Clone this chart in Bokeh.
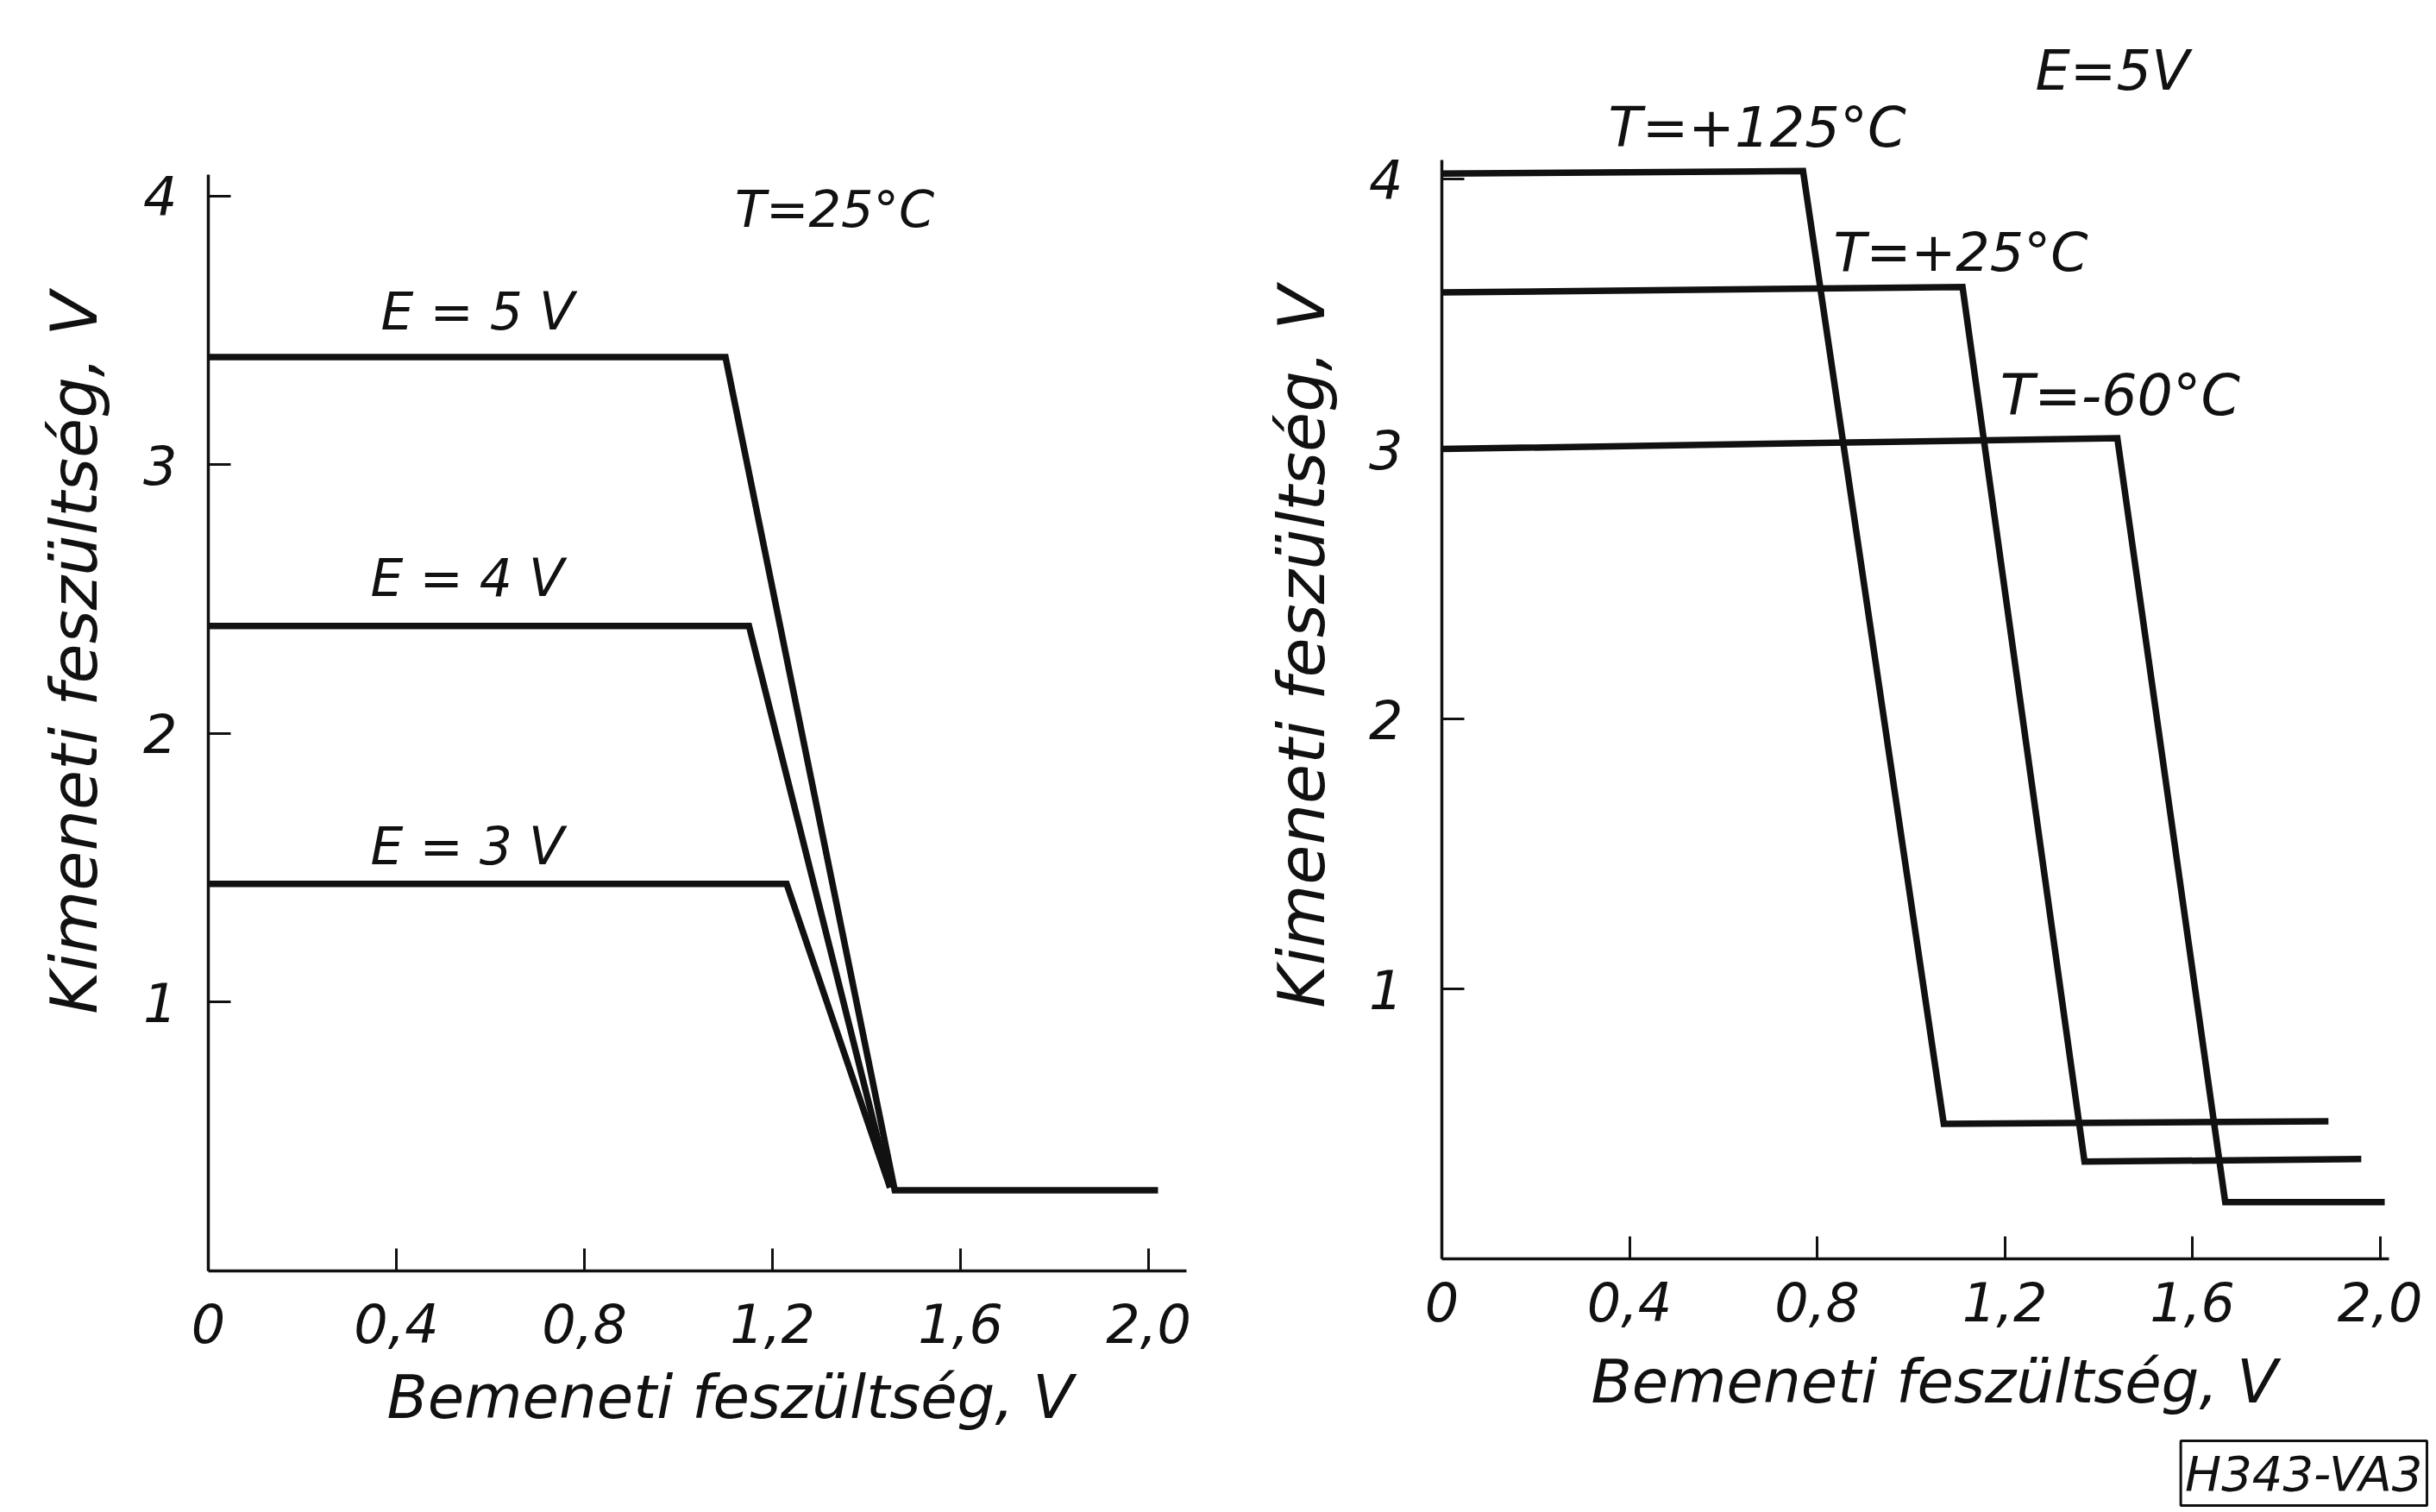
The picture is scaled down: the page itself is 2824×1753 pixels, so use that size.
from bokeh.plotting import figure
from bokeh.models import FixedTicker, Label, Range1d, Title
from bokeh.layouts import row
from bokeh.embed import file_html
from bokeh.resources import INLINE

FONT = "DejaVu Sans"
INK = "#111111"

# ---------------- data ----------------
# Left chart, T = 25 °C: output vs input voltage for three supply voltages
left_labels = ["E = 5 V", "E = 4 V", "E = 3 V"]
left_e5_x = [0.0, 1.10, 1.46, 2.02]
left_e5_y = [3.40, 3.40, 0.30, 0.30]
left_e4_x = [0.0, 1.15, 1.45]
left_e4_y = [2.40, 2.40, 0.31]
left_e3_x = [0.0, 1.23, 1.45]
left_e3_y = [1.44, 1.44, 0.31]
left_note = "T=25°C"

# Right chart, E = 5 V: output vs input voltage for three temperatures
right_labels = ["T=+125°C", "T=+25°C", "T=-60°C"]
right_t125_x = [0.0, 0.77, 1.07, 1.89]
right_t125_y = [4.02, 4.03, 0.50, 0.51]
right_t25_x = [0.0, 1.11, 1.37, 1.96]
right_t25_y = [3.58, 3.60, 0.36, 0.37]
right_tm60_x = [0.0, 1.44, 1.67, 2.01]
right_tm60_y = [3.00, 3.04, 0.21, 0.21]
right_note = "E=5V"
figure_code = "H343-VA3"

x_ticks = [0.0, 0.4, 0.8, 1.2, 1.6, 2.0]
x_tick_labels = ["0", "0,4", "0,8", "1,2", "1,6", "2,0"]
y_ticks = [1, 2, 3, 4]
y_tick_labels = ["1", "2", "3", "4"]
x_title = "Bemeneti feszültség, V"
y_title = "Kimeneti feszültség, V"


def make_fig(x_end, y_end, x_axis_end, y_axis_end, fw, fh, bl, bt, br, bb,
             y_stand, x_stand, y_lab_stand, x_lab_stand):
    p = figure(x_range=Range1d(0, x_end), y_range=Range1d(0, y_end),
               frame_width=fw, frame_height=fh,
               min_border_left=bl, min_border_top=bt,
               min_border_right=br, min_border_bottom=bb,
               output_backend="svg", toolbar_location=None,
               background_fill_color="white", border_fill_color="white")
    p.outline_line_color = None
    p.grid.visible = False
    for ax in (p.xaxis[0], p.yaxis[0]):
        ax.axis_line_width = 3.5
        ax.axis_line_color = INK
        ax.major_tick_line_width = 3
        ax.major_tick_line_color = INK
        ax.major_tick_in = 26
        ax.major_tick_out = 0
        ax.minor_tick_line_color = None
        ax.major_label_text_font = FONT
        ax.major_label_text_font_style = "italic"
        ax.major_label_text_font_size = "62px"
        ax.major_label_text_color = INK
        ax.axis_label_text_font = FONT
        ax.axis_label_text_font_style = "italic"
        ax.axis_label_text_color = INK
    p.xaxis[0].axis_label_text_font_size = "69px"
    p.yaxis[0].axis_label_text_font_size = "75px"
    p.xaxis[0].bounds = (0, x_axis_end)
    p.yaxis[0].bounds = (0, y_axis_end)
    p.xaxis[0].ticker = FixedTicker(ticks=x_ticks)
    p.xaxis[0].major_label_overrides = dict(zip(x_ticks, x_tick_labels))
    p.yaxis[0].ticker = FixedTicker(ticks=y_ticks)
    p.yaxis[0].major_label_overrides = dict(zip(y_ticks, y_tick_labels))
    p.xaxis[0].axis_label = x_title
    p.yaxis[0].axis_label = y_title
    p.yaxis[0].major_label_standoff = y_stand
    p.xaxis[0].major_label_standoff = x_stand
    p.yaxis[0].axis_label_standoff = y_lab_stand
    p.xaxis[0].axis_label_standoff = x_lab_stand
    return p


def note(p, x, y, text, size):
    p.add_layout(Label(x=x, y=y, text=text, text_align="left",
                       text_baseline="middle", text_font=FONT,
                       text_font_style="italic", text_font_size=size,
                       text_color=INK))


# ---------------- left chart ----------------
p1 = make_fig(2.22, 4.599, 2.08, 4.08, 1210, 1433, 241, 40, 9, 279, 36, 37, 33, 20)
for xs, ys in ((left_e5_x, left_e5_y), (left_e4_x, left_e4_y), (left_e3_x, left_e3_y)):
    p1.line(xs, ys, line_color=INK, line_width=7.5, line_join="miter")
note(p1, 1.12, 3.95, left_note, "59px")
note(p1, 0.367, 3.57, left_labels[0], "60px")
note(p1, 0.345, 2.58, left_labels[1], "60px")
note(p1, 0.345, 1.58, left_labels[2], "60px")

# ---------------- right chart ----------------
p2 = make_fig(2.10, 4.534, 2.02, 4.07, 1142, 1419, 211, 40, 5, 293, 45, 26, 31, 27)
for xs, ys in ((right_t125_x, right_t125_y), (right_t25_x, right_t25_y), (right_tm60_x, right_tm60_y)):
    p2.line(xs, ys, line_color=INK, line_width=7.5, line_join="miter")
note(p2, 1.265, 4.40, right_note, "64px")
note(p2, 0.355, 4.19, right_labels[0], "64px")
note(p2, 0.835, 3.73, right_labels[1], "62px")
note(p2, 1.19, 3.20, right_labels[2], "65px")
p2.add_layout(Title(text=figure_code, align="right", text_font=FONT,
                    text_font_style="italic", text_font_size="56px",
                    text_color=INK, border_line_color=INK, border_line_width=3,
                    padding=5, standoff=48), "below")

layout = row(p1, p2)
open("out.html", "w").write(file_html(layout, INLINE))
